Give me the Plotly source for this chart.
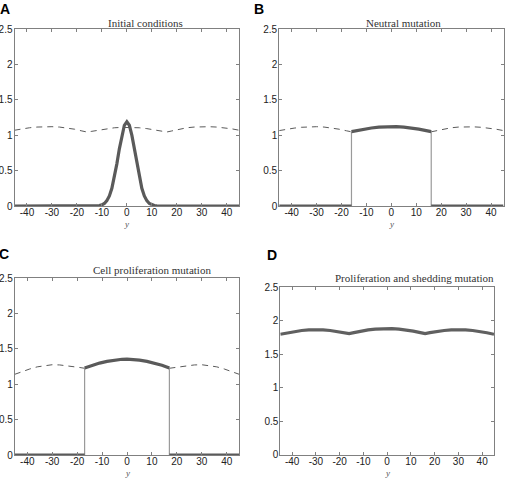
import plotly.graph_objects as go
from plotly.subplots import make_subplots

W, H = 506, 478

# ---------------- data ----------------
x_ticks = [-40, -30, -20, -10, 0, 10, 20, 30, 40]
x_tick_labels = ["-40", "-30", "-20", "-10", "0", "10", "20", "30", "40"]
y_ticks = [0, 0.5, 1, 1.5, 2, 2.5]
y_tick_labels = ["0", "0.5", "1", "1.5", "2", "2.5"]

titles = ["Initial conditions", "Neutral mutation",
          "Cell proliferation mutation", "Proliferation and shedding mutation"]
letters = ["A", "B", "C", "D"]

# Panel A
A_dash_x = [-45, -42, -39, -36, -33, -30, -27, -24, -21, -18, -16, -14, -11, -8, -5, -2, 0,
            2, 5, 8, 11, 14, 16, 18, 21, 24, 27, 30, 33, 36, 39, 42, 45]
A_dash_y = [1.07, 1.09, 1.105, 1.115, 1.12, 1.12, 1.115, 1.105, 1.085, 1.06, 1.045, 1.055,
            1.075, 1.093, 1.105, 1.11, 1.11, 1.11, 1.105, 1.093, 1.075, 1.055, 1.045, 1.06,
            1.085, 1.105, 1.115, 1.12, 1.12, 1.115, 1.105, 1.09, 1.07]
A_solid_x = [-45, -13, -12, -11, -10, -9, -8, -7, -6, -5, -4, -3, -2, -1, 0,
             1, 2, 3, 4, 5, 6, 7, 8, 9, 10, 11, 12, 13, 45]
A_solid_y = [0, 0, 0.002, 0.006, 0.016, 0.036, 0.075, 0.143, 0.251, 0.404, 0.595, 0.807,
             1.001, 1.14, 1.19, 1.14, 1.001, 0.807, 0.595, 0.404, 0.251, 0.143, 0.075,
             0.036, 0.016, 0.006, 0.002, 0, 0]

# Panel B
B_dash_x = [-45, -42, -39, -36, -33, -30, -27, -24, -21, -18, -16, None,
            16, 18, 21, 24, 27, 30, 33, 36, 39, 42, 45]
B_dash_y = [1.065, 1.085, 1.1, 1.112, 1.118, 1.12, 1.115, 1.105, 1.085, 1.062, 1.048, None,
            1.048, 1.062, 1.085, 1.105, 1.115, 1.12, 1.118, 1.112, 1.1, 1.085, 1.065]
B_mid_x = [-16, -14, -11, -8, -5, -2, 0, 2, 5, 8, 11, 14, 16]
B_mid_y = [1.05, 1.065, 1.085, 1.102, 1.113, 1.12, 1.12, 1.12, 1.113, 1.102, 1.085, 1.065, 1.05]
B_zero_x = [-45, -16, None, 16, 45]
B_zero_y = [0, 0, None, 0, 0]
B_wall_x = [-16, -16, None, 16, 16]
B_wall_y = [0, 1.05, None, 0, 1.05]

# Panel C
C_dash_x = [-45, -42, -39, -36, -33, -30, -27, -24, -21, -19, -17, None,
            17, 19, 21, 24, 27, 30, 33, 36, 39, 42, 45]
C_dash_y = [1.14, 1.18, 1.215, 1.245, 1.265, 1.275, 1.272, 1.262, 1.247, 1.236, 1.225, None,
            1.225, 1.236, 1.247, 1.262, 1.272, 1.275, 1.265, 1.245, 1.215, 1.18, 1.14]
C_mid_x = [-17, -14, -11, -8, -5, -2, 0, 2, 5, 8, 11, 14, 17]
C_mid_y = [1.23, 1.268, 1.298, 1.322, 1.34, 1.352, 1.355, 1.352, 1.34, 1.322, 1.298, 1.268, 1.23]
C_zero_x = [-45, -17, None, 17, 45]
C_zero_y = [0, 0, None, 0, 0]
C_wall_x = [-17, -17, None, 17, 17]
C_wall_y = [0, 1.23, None, 0, 1.23]

# Panel D
D_x = [-45, -42, -39, -36, -33, -30, -27, -24, -21, -18, -16, -14, -11, -8, -5, -2, 0,
       2, 5, 8, 11, 14, 16, 18, 21, 24, 27, 30, 33, 36, 39, 42, 45]
D_y = [1.795, 1.818, 1.838, 1.852, 1.86, 1.862, 1.86, 1.852, 1.838, 1.82, 1.805, 1.82,
       1.843, 1.86, 1.872, 1.878, 1.878, 1.878, 1.872, 1.86, 1.843, 1.82, 1.805, 1.82,
       1.838, 1.852, 1.86, 1.862, 1.86, 1.852, 1.838, 1.818, 1.795]

# ---------------- layout helpers ----------------
def px_x(p):
    return p / W

def px_y(p):
    return 1 - p / H

# plot areas in pixels: (left, right, top, bottom)
boxes = [(14.5, 239.2, 29, 206),
         (279.2, 503.5, 29, 206),
         (14.8, 239.2, 278, 455),
         (280.3, 494, 287, 454.7)]

fig = make_subplots(rows=2, cols=2)

DARK = "#5a5a5a"
dash_style = dict(color=DARK, width=1, dash="6px,5px")
thick_style = dict(color=DARK, width=3.2)
wall_style = dict(color="#9a9a9a", width=1.2)

# A
fig.add_trace(go.Scatter(x=A_dash_x, y=A_dash_y, mode="lines", line=dash_style), row=1, col=1)
fig.add_trace(go.Scatter(x=A_solid_x, y=A_solid_y, mode="lines", line=thick_style), row=1, col=1)
# B
fig.add_trace(go.Scatter(x=B_dash_x, y=B_dash_y, mode="lines", line=dash_style), row=1, col=2)
fig.add_trace(go.Scatter(x=B_wall_x, y=B_wall_y, mode="lines", line=wall_style), row=1, col=2)
fig.add_trace(go.Scatter(x=B_zero_x, y=B_zero_y, mode="lines", line=thick_style), row=1, col=2)
fig.add_trace(go.Scatter(x=B_mid_x, y=B_mid_y, mode="lines", line=thick_style), row=1, col=2)
# C
fig.add_trace(go.Scatter(x=C_dash_x, y=C_dash_y, mode="lines", line=dash_style), row=2, col=1)
fig.add_trace(go.Scatter(x=C_wall_x, y=C_wall_y, mode="lines", line=wall_style), row=2, col=1)
fig.add_trace(go.Scatter(x=C_zero_x, y=C_zero_y, mode="lines", line=thick_style), row=2, col=1)
fig.add_trace(go.Scatter(x=C_mid_x, y=C_mid_y, mode="lines", line=thick_style), row=2, col=1)
# D
fig.add_trace(go.Scatter(x=D_x, y=D_y, mode="lines", line=dict(color="#606060", width=3.2)),
              row=2, col=2)

axis_common = dict(showline=True, linecolor="#808080", linewidth=1, mirror="ticks",
                   ticks="inside", ticklen=3, tickcolor="#808080", showgrid=False,
                   zeroline=False, automargin=False,
                   tickfont=dict(family="Liberation Sans, Arial", size=10, color="#222"))

layout_updates = {}
for i, (l, r, t, b) in enumerate(boxes):
    suffix = "" if i == 0 else str(i + 1)
    layout_updates["xaxis" + suffix] = dict(
        domain=[px_x(l), px_x(r)], range=[-45, 45], tickvals=x_ticks,
        ticktext=x_tick_labels, ticklabelstandoff=-3, **axis_common)
    layout_updates["yaxis" + suffix] = dict(
        domain=[px_y(b), px_y(t)], range=[0, 2.5], tickvals=y_ticks,
        ticktext=y_tick_labels, ticklabelstandoff=-1, **axis_common)
fig.update_layout(**layout_updates)

annotations = []
title_pos = [(145, 23), (403, 23), (152, 270), (414, 278)]
letter_pos = [(5, 9), (259, 9), (4, 254), (272, 255)]
for i, (l, r, t, b) in enumerate(boxes):
    tx, ty = title_pos[i]
    annotations.append(dict(text=titles[i], x=px_x(tx), y=px_y(ty), xref="paper", yref="paper",
                            showarrow=False, xanchor="center", yanchor="middle",
                            font=dict(family="Liberation Serif, Times New Roman", size=11,
                                      color="#333")))
    lx, ly = letter_pos[i]
    annotations.append(dict(text="<b>" + letters[i] + "</b>", x=px_x(lx), y=px_y(ly),
                            xref="paper", yref="paper", showarrow=False,
                            xanchor="center", yanchor="middle",
                            font=dict(family="Liberation Sans, Arial", size=14, color="#000")))
    annotations.append(dict(text="<i>y</i>", x=px_x((l + r) / 2), y=px_y(b + 18),
                            xref="paper", yref="paper", showarrow=False,
                            xanchor="center", yanchor="middle",
                            font=dict(family="Liberation Serif, Times New Roman", size=9,
                                      color="#555")))

fig.update_layout(width=W, height=H, margin=dict(l=0, r=0, t=0, b=0),
                  paper_bgcolor="white", plot_bgcolor="white", showlegend=False,
                  annotations=annotations)

fig.write_html("out.html", config={"displayModeBar": False},
               post_script="document.body.style.margin='0';document.body.style.overflow='hidden';")
